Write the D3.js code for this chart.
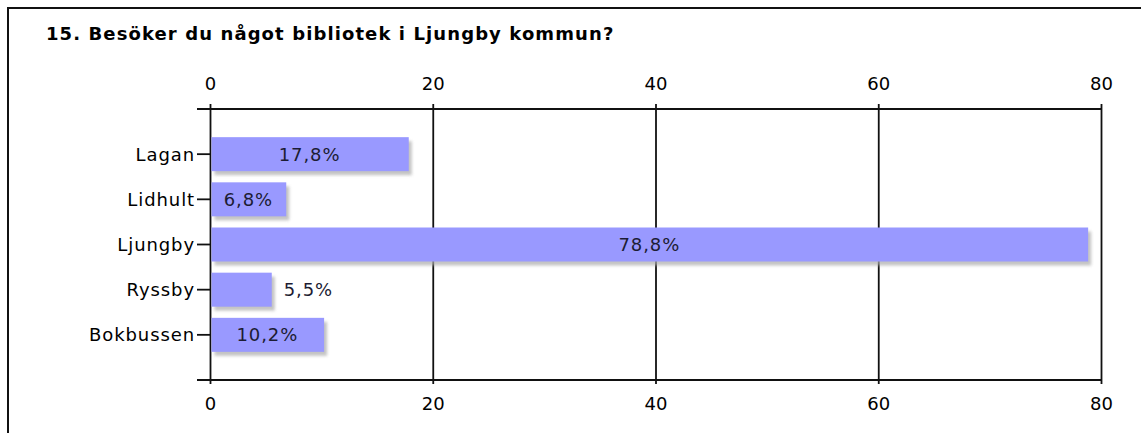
<!DOCTYPE html>
<html>
<head>
<meta charset="utf-8">
<script src="https://cdn.jsdelivr.net/npm/d3@7"></script>
<style>
  html, body { margin: 0; padding: 0; background: #fff; }
  svg { display: block; }
</style>
</head>
<body>
<svg id="chart"></svg>
<script>
const title = '15. Besöker du något bibliotek i Ljungby kommun?';
const categories = ['Lagan', 'Lidhult', 'Ljungby', 'Ryssby', 'Bokbussen'];
const values = [17.8, 6.8, 78.8, 5.5, 10.2];
const xTicks = [0, 20, 40, 60, 80];

const width = 1141;
const height = 433;
const font = '"DejaVu Sans", Verdana, sans-serif';
const fmt = (v) => d3.format('.1f')(v).replace('.', ',') + '%';

const svg = d3.select('#chart').attr('width', width).attr('height', height);

// frame
svg.append('rect')
  .attr('x', 8).attr('y', 8)
  .attr('width', width + 10).attr('height', height + 10)
  .attr('fill', '#fff')
  .attr('stroke', '#111')
  .attr('stroke-width', 2);

svg.append('text')
  .attr('x', 46).attr('y', 40)
  .attr('font-family', font)
  .attr('font-weight', 'bold')
  .attr('font-size', '18px')
  .attr('letter-spacing', '1.1px')
  .attr('fill', '#000')
  .text(title);

const x = d3.scaleLinear().domain([0, 80]).range([210.5, 1101.5]);
const y = d3.scalePoint().domain(categories).range([109, 380]).padding(1);
const barH = 34;

const defs = svg.append('defs');
defs.append('filter')
  .attr('id', 'shadow')
  .attr('x', '-10%').attr('y', '-30%')
  .attr('width', '130%').attr('height', '180%')
  .append('feGaussianBlur')
  .attr('stdDeviation', 1.6);

// grid lines
svg.append('g')
  .selectAll('line')
  .data(xTicks)
  .join('line')
  .attr('x1', (d) => x(d)).attr('x2', (d) => x(d))
  .attr('y1', 104).attr('y2', 384)
  .attr('stroke', '#111')
  .attr('stroke-width', 1.8);

// top and bottom axis lines
svg.append('g')
  .selectAll('line')
  .data([109, 380])
  .join('line')
  .attr('x1', 197).attr('x2', x(80))
  .attr('y1', (d) => d).attr('y2', (d) => d)
  .attr('stroke', '#111')
  .attr('stroke-width', 1.8);

// y tick marks
svg.append('g')
  .selectAll('line')
  .data(categories)
  .join('line')
  .attr('x1', 197).attr('x2', x(0))
  .attr('y1', (d) => y(d)).attr('y2', (d) => y(d))
  .attr('stroke', '#111')
  .attr('stroke-width', 1.8);

// shadows
svg.append('g')
  .selectAll('rect')
  .data(values)
  .join('rect')
  .attr('x', x(0) + 4)
  .attr('y', (d, i) => y(categories[i]) - barH / 2 + 4)
  .attr('width', (d) => x(d) - x(0) - 1)
  .attr('height', barH)
  .attr('fill', '#aaa')
  .attr('opacity', 0.7)
  .attr('filter', 'url(#shadow)');

// bars
svg.append('g')
  .selectAll('rect')
  .data(values)
  .join('rect')
  .attr('x', x(0) + 1)
  .attr('y', (d, i) => y(categories[i]) - barH / 2)
  .attr('width', (d) => x(d) - x(0) - 1)
  .attr('height', barH)
  .attr('fill', '#9999ff');

// value labels
svg.append('g')
  .selectAll('text')
  .data(values)
  .join('text')
  .attr('font-family', font)
  .attr('font-size', '18px')
  .attr('letter-spacing', '0.9px')
  .attr('fill', '#1c1c33')
  .attr('dominant-baseline', 'central')
  .attr('y', (d, i) => y(categories[i]))
  .each(function (d) {
    const t = d3.select(this).text(fmt(d));
    const w = this.getComputedTextLength();
    const bw = x(d) - x(0);
    if (w + 12 < bw) {
      t.attr('x', x(0) + bw / 2).attr('text-anchor', 'middle');
    } else {
      t.attr('x', x(d) + 12).attr('text-anchor', 'start');
    }
  });

// category labels
svg.append('g')
  .selectAll('text')
  .data(categories)
  .join('text')
  .attr('x', 195)
  .attr('y', (d) => y(d))
  .attr('dominant-baseline', 'central')
  .attr('text-anchor', 'end')
  .attr('font-family', font)
  .attr('font-size', '18px')
  .attr('letter-spacing', '0.9px')
  .attr('fill', '#000')
  .text((d) => d);

// x tick labels, top and bottom
[90, 410].forEach((ty) => {
  svg.append('g')
    .selectAll('text')
    .data(xTicks)
    .join('text')
    .attr('x', (d) => x(d))
    .attr('y', ty)
    .attr('text-anchor', 'middle')
    .attr('font-family', font)
    .attr('font-size', '18px')
    .attr('fill', '#000')
    .text((d) => d);
});
</script>
</body>
</html>
